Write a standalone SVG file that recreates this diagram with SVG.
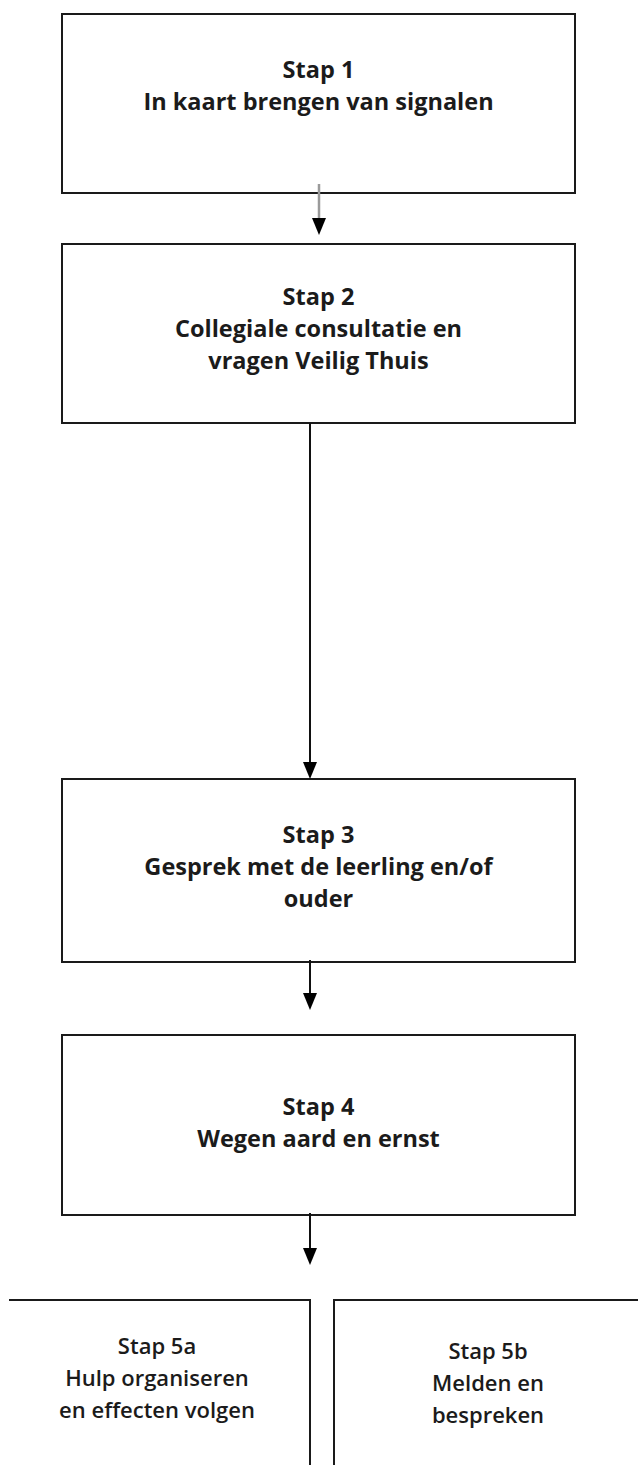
<svg xmlns="http://www.w3.org/2000/svg" width="638" height="1465" viewBox="0 0 638 1465">
  <style>
    .box { fill: #ffffff; stroke: #1a1a1a; stroke-width: 2; }
    .edge { fill: none; stroke: #1a1a1a; stroke-width: 2; }
    .t { font-family: "Open Sans", "Noto Sans", "DejaVu Sans", sans-serif; font-size: 23.5px; font-weight: bold; fill: #1b1b1b; text-anchor: middle; }
    .t5 { font-family: "Open Sans", "Noto Sans", "DejaVu Sans", sans-serif; font-size: 22px; font-weight: 600; fill: #1b1b1b; text-anchor: middle; }
    .conn { fill: none; stroke: #111111; stroke-width: 2; }
    .conn-grey { fill: none; stroke: #9a9a9a; stroke-width: 2.5; }
  </style>
  <defs>
    <marker id="arrow" viewBox="0 0 17 14" refX="0" refY="7" markerWidth="17" markerHeight="14" markerUnits="userSpaceOnUse" orient="auto">
      <path d="M0,0 L17,7 L0,14 z" fill="#000000"/>
    </marker>
  </defs>
  <rect x="0" y="0" width="638" height="1465" fill="#ffffff"/>

  <g id="step1">
    <rect class="box" x="62" y="14" width="513" height="179"/>
    <text class="t" x="318.5" y="78">Stap 1</text>
    <text class="t" x="318.5" y="110">In kaart brengen van signalen</text>
  </g>

  <g id="step2">
    <rect class="box" x="62" y="244" width="513" height="179"/>
    <text class="t" x="318.5" y="305">Stap 2</text>
    <text class="t" x="318.5" y="337">Collegiale consultatie en</text>
    <text class="t" x="318.5" y="369">vragen Veilig Thuis</text>
  </g>

  <g id="step3">
    <rect class="box" x="62" y="779" width="513" height="183"/>
    <text class="t" x="318.5" y="843">Stap 3</text>
    <text class="t" x="318.5" y="875">Gesprek met de leerling en/of</text>
    <text class="t" x="318.5" y="907">ouder</text>
  </g>

  <g id="step4">
    <rect class="box" x="62" y="1035" width="513" height="180"/>
    <text class="t" x="318.5" y="1115">Stap 4</text>
    <text class="t" x="318.5" y="1147">Wegen aard en ernst</text>
  </g>

  <g id="step5a">
    <path class="edge" d="M9,1300 H310 V1470"/>
    <text class="t5" x="157" y="1354">Stap 5a</text>
    <text class="t5" x="157" y="1386">Hulp organiseren</text>
    <text class="t5" x="157" y="1418">en effecten volgen</text>
  </g>

  <g id="step5b">
    <path class="edge" d="M334,1470 V1300 H645"/>
    <text class="t5" x="488" y="1359">Stap 5b</text>
    <text class="t5" x="488" y="1391">Melden en</text>
    <text class="t5" x="488" y="1423">bespreken</text>
  </g>

  <g id="connectors">
    <line class="conn-grey" x1="319" y1="184" x2="319" y2="218" marker-end="url(#arrow)"/>
    <line class="conn" x1="310" y1="423" x2="310" y2="762" marker-end="url(#arrow)"/>
    <line class="conn" x1="310" y1="960" x2="310" y2="993" marker-end="url(#arrow)"/>
    <line class="conn" x1="310" y1="1213" x2="310" y2="1248" marker-end="url(#arrow)"/>
  </g>
</svg>
